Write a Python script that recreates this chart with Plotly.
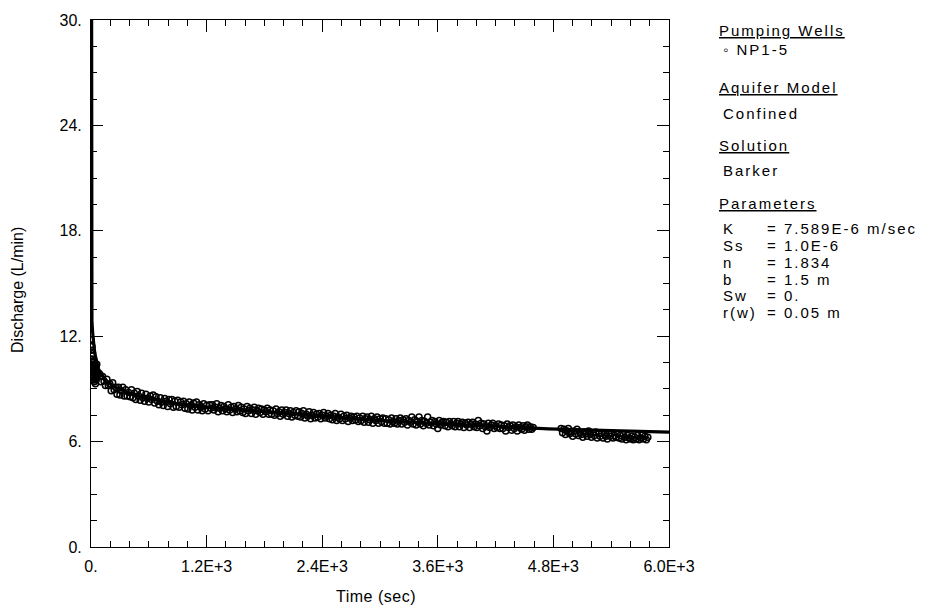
import plotly.graph_objects as go

# ---------------- data ----------------
# early observations (time in s, discharge in L/min), every 2 s
obs_t_early = list(range(2, 59, 2))
obs_q_early = [11.8, 11.5, 11.2, 10.7, 11.4, 10.4, 10.9, 10.1, 11.0, 9.7,
               10.5, 10.2, 9.5, 10.6, 9.9, 10.3, 9.4, 10.1, 9.8, 10.4,
               9.6, 10.0, 9.3, 10.2, 9.7, 9.9, 9.5, 10.1, 9.8]

# main observations, logged every 15 s from 60 s to 4590 s
obs_t_main = list(range(60, 4591, 15))
obs_q_main = [
    10.4, 9.9, 9.85, 9.4, 9.7, 9.45, 9.2, 9.55, 9.2, 9.3, 8.9, 9.35, 8.95, 9.1, 8.7, 9.1, 8.65, 8.9, 9.1, 8.6,
    8.95, 8.6, 8.8, 8.55, 8.95, 8.5, 8.75, 8.4, 8.85, 8.6, 8.35, 8.75, 8.5, 8.3, 8.7, 8.45, 8.25, 8.6, 8.4, 8.65,
    8.2, 8.55, 8.3, 8.1, 8.5, 8.25, 8.05, 8.45, 8.3, 8.0, 8.4, 8.15, 8.4, 7.95, 8.3, 8.0, 8.35, 7.95, 8.25, 8.1,
    8.3, 7.9, 8.15, 7.85, 8.25, 8.05, 7.8, 8.2, 7.95, 8.25, 7.8, 8.1, 7.95, 7.75, 8.15, 7.85, 8.05, 7.75, 8.1, 7.9,
    8.1, 7.8, 7.95, 8.15, 7.7, 7.9, 8.05, 7.75, 8.0, 7.85, 7.7, 8.1, 7.8, 7.95, 7.65, 8.0, 7.85, 7.7, 8.05, 7.75,
    7.95, 7.65, 7.85, 7.6, 8.0, 7.75, 7.9, 7.6, 7.8, 7.95, 7.55, 7.75, 7.9, 7.65, 7.85, 7.55, 7.8, 7.7, 7.9, 7.55,
    7.8, 7.55, 7.75, 7.5, 7.85, 7.6, 7.7, 7.45, 7.8, 7.55, 7.65, 7.8, 7.45, 7.6, 7.75, 7.4, 7.65, 7.5, 7.75, 7.45,
    7.7, 7.4, 7.6, 7.75, 7.35, 7.55, 7.45, 7.7, 7.3, 7.5, 7.65, 7.35, 7.55, 7.4, 7.6, 7.3, 7.5, 7.65, 7.35, 7.45,
    7.6, 7.3, 7.5, 7.25, 7.45, 7.6, 7.2, 7.4, 7.3, 7.55, 7.2, 7.45, 7.3, 7.5, 7.15, 7.35, 7.45, 7.2, 7.4, 7.25,
    7.45, 7.15, 7.35, 7.2, 7.45, 7.1, 7.3, 7.4, 7.1, 7.25, 7.45, 7.05, 7.3, 7.2, 7.4, 7.05, 7.3, 7.15, 7.35, 7.05,
    7.3, 7.05, 7.25, 7.0, 7.35, 7.15, 7.05, 7.3, 7.0, 7.2, 7.35, 7.0, 7.25, 7.1, 7.3, 6.95, 7.2, 7.1, 7.4, 7.0,
    7.25, 6.95, 7.15, 7.4, 7.0, 7.2, 6.9, 7.15, 7.05, 7.4, 6.95, 7.1, 7.2, 6.9, 7.15, 7.0, 6.75, 7.2, 6.95, 7.1,
    7.15, 6.9, 7.1, 6.85, 7.15, 7.0, 6.9, 7.15, 6.85, 7.05, 7.15, 6.85, 7.0, 7.1, 6.8, 7.05, 6.95, 7.1, 6.8, 7.0,
    7.1, 6.85, 7.0, 6.8, 7.2, 6.9, 7.05, 6.75, 7.0, 6.85, 6.6, 7.05, 6.8, 6.95, 7.05, 6.75, 6.9, 6.8, 7.0, 6.75,
    6.95, 6.75, 6.9, 6.6, 7.0, 6.8, 6.9, 6.65, 6.95, 6.75, 6.85, 6.6, 6.95, 6.8, 6.7, 6.9, 6.65, 6.85, 6.95, 6.7,
    6.85, 6.7, 6.8,
]

# late observations, logged every 15 s from 4880 s to 5780 s
obs_t_late = list(range(4880, 5781, 15))
obs_q_late = [
    6.75, 6.5, 6.7, 6.4, 6.6, 6.75, 6.45, 6.55, 6.3, 6.6, 6.45, 6.7, 6.35, 6.55, 6.4, 6.25, 6.55, 6.45, 6.3, 6.6,
    6.4, 6.25, 6.5, 6.35, 6.55, 6.2, 6.45, 6.3, 6.5, 6.2, 6.4, 6.3, 6.15, 6.45, 6.3, 6.5, 6.2, 6.35, 6.25, 6.45,
    6.2, 6.35, 6.15, 6.4, 6.25, 6.1, 6.35, 6.2, 6.15, 6.3, 6.1, 6.25, 6.15, 6.35, 6.1, 6.2, 6.45, 6.15, 6.3, 6.1,
    6.25,
]

# Barker model curve
model_t = [0.5, 2, 10, 20, 40, 80, 150, 250, 400, 600, 900, 1200, 1600, 2000,
           2500, 3000, 3500, 4000, 4500, 4750, 5400, 6000]
model_q = [60.0, 14.0, 12.8, 12.0, 11.0, 10.1, 9.5, 9.1, 8.75, 8.45, 8.15, 7.95,
           7.78, 7.6, 7.38, 7.2, 7.05, 6.92, 6.8, 6.73, 6.63, 6.54]

x_tickvals = [0, 1200, 2400, 3600, 4800, 6000]
x_ticktext = ["0.", "1.2E+3", "2.4E+3", "3.6E+3", "4.8E+3", "6.0E+3"]
y_tickvals = [0, 6, 12, 18, 24, 30]
y_ticktext = ["0.", "6.", "12.", "18.", "24.", "30."]

legend_heads = ["Pumping Wells", "Aquifer Model", "Solution", "Parameters"]
legend_items = ["\u25e6 NP1-5", "Confined", "Barker"]
param_names = ["K", "Ss", "n", "b", "Sw", "r(w)"]
param_values = ["= 7.589E-6 m/sec", "= 1.0E-6", "= 1.834", "= 1.5 m", "= 0.", "= 0.05 m"]

# ---------------- figure ----------------
FONT = "Liberation Sans, Arial, sans-serif"
W, H = 925, 608
ML, MR, MT, MB = 91, 256, 16, 61
PW, PH = W - ML - MR, H - MT - MB


def px_x(px):
    return (px - ML) / PW


def px_y(py):
    return (H - MB - py) / PH


def spaced(txt, ls=2.0):
    return '<span style="letter-spacing:%.1fpx">%s</span>' % (ls, txt)


fig = go.Figure()
obs_t = obs_t_early + obs_t_main + obs_t_late
obs_q = obs_q_early + obs_q_main + obs_q_late
fig.add_trace(go.Scatter(
    x=obs_t, y=obs_q, mode="markers",
    marker=dict(symbol="circle-open", size=6, color="black", line=dict(width=1.5, color="black")),
    showlegend=False))
fig.add_trace(go.Scatter(
    x=model_t, y=model_q, mode="lines",
    line=dict(color="black", width=3.2), showlegend=False))

axis_common = dict(
    showline=True, linecolor="black", linewidth=1, mirror="allticks",
    ticks="inside", ticklen=12, tickcolor="black", tickwidth=1,
    showgrid=False, zeroline=False,
    tickfont=dict(family=FONT, size=16, color="black"),
    ticklabelstandoff=5,
)
fig.update_xaxes(range=[0, 6000], tickvals=x_tickvals, ticktext=x_ticktext,
                 minor=dict(dtick=200, ticklen=6, ticks="inside", tickcolor="black", showgrid=False),
                 **axis_common)
fig.update_yaxes(range=[0, 30], tickvals=y_tickvals, ticktext=y_ticktext,
                 minor=dict(dtick=1.5, ticklen=6, ticks="inside", tickcolor="black", showgrid=False),
                 **axis_common)

annotations = []
annotations.append(dict(text=spaced("Time (sec)", 0.5), x=px_x(376), y=px_y(597), xref="paper", yref="paper",
                        showarrow=False, xanchor="center", yanchor="middle",
                        font=dict(family=FONT, size=16, color="black")))
annotations.append(dict(text="Discharge (L/min)", x=px_x(18), y=px_y(288), xref="paper", yref="paper",
                        showarrow=False, xanchor="center", yanchor="middle", textangle=-90,
                        font=dict(family=FONT, size=16, color="black")))

LSIZE = 15
head_y = [27, 84, 142, 201]
for txt, py in zip(legend_heads, head_y):
    annotations.append(dict(text="<u>" + spaced(txt) + "</u>", x=px_x(717), y=px_y(py), xref="paper", yref="paper",
                            showarrow=False, xanchor="left", yanchor="middle",
                            font=dict(family=FONT, size=LSIZE, color="black")))
item_y = [46, 110, 168]
for txt, py in zip(legend_items, item_y):
    annotations.append(dict(text=spaced(txt), x=px_x(721), y=px_y(py), xref="paper", yref="paper",
                            showarrow=False, xanchor="left", yanchor="middle",
                            font=dict(family=FONT, size=LSIZE, color="black")))
param_y = [226, 243, 260, 277, 294, 311]
for name, val, py in zip(param_names, param_values, param_y):
    annotations.append(dict(text=spaced(name), x=px_x(721), y=px_y(py), xref="paper", yref="paper",
                            showarrow=False, xanchor="left", yanchor="middle",
                            font=dict(family=FONT, size=LSIZE, color="black")))
    annotations.append(dict(text=spaced(val), x=px_x(765), y=px_y(py), xref="paper", yref="paper",
                            showarrow=False, xanchor="left", yanchor="middle",
                            font=dict(family=FONT, size=LSIZE, color="black")))

fig.update_layout(
    width=W, height=H,
    margin=dict(l=ML, r=MR, t=MT, b=MB, pad=0),
    paper_bgcolor="white", plot_bgcolor="white",
    annotations=annotations,
    showlegend=False,
)

fig.write_html("out.html")
